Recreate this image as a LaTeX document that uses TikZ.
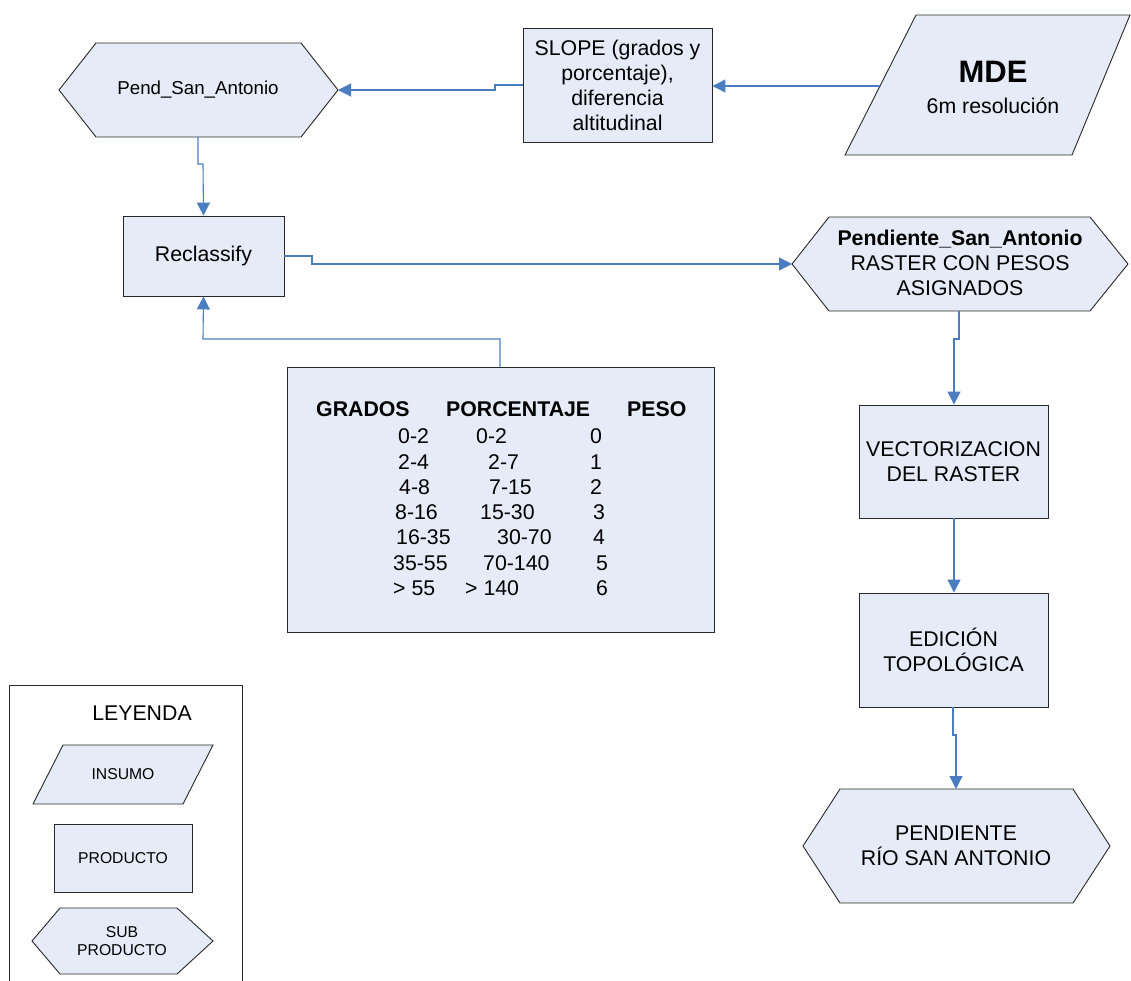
\documentclass[tikz,border=0pt]{standalone}
\usepackage{fontspec}
\setmainfont{Liberation Sans}
\usetikzlibrary{arrows.meta}

\definecolor{boxfill}{RGB}{230,236,247}
\definecolor{boxline}{RGB}{40,40,40}
\definecolor{connblue}{RGB}{74,126,193}

\tikzset{
  shapefill/.style={fill=boxfill, draw=boxline, line width=0.9pt},
  box/.style={shapefill, rectangle, inner sep=0pt, align=center,
    font=\fontsize{21.3}{25}\selectfont},
  conn/.style={draw=connblue, line width=1.1pt,
    -{Triangle[length=13pt,width=13pt]}},
  txt/.style={inner sep=0pt, align=center, font=\fontsize{21.3}{25}\selectfont},
  smalltxt/.style={inner sep=0pt, align=center, font=\fontsize{15.7}{18.5}\selectfont},
  celltxt/.style={inner sep=0pt, anchor=west, font=\fontsize{21.3}{25}\selectfont},
  headtxt/.style={inner sep=0pt, anchor=west, font=\fontsize{21.3}{25}\selectfont\bfseries},
}

\begin{document}
\begin{tikzpicture}[x=1pt,y=-1pt]
\useasboundingbox (0,0) rectangle (1131,980);

% ---------- input: digital elevation model ----------
\draw[shapefill] (845,155) -- (916,15) -- (1130,15) -- (1072,155) -- cycle;
\node[inner sep=0pt, font=\fontsize{31}{34}\selectfont\bfseries] (mdet) at (993,72) {MDE};
\node[txt] (mdes) at (993,106) {6m resolución};
\coordinate (mde-w) at (880,86);

% ---------- slope tool ----------
\node[box, minimum width=189pt, minimum height=114pt] (slope) at (617.5,85)
  {SLOPE (grados y\\porcentaje),\\diferencia\\altitudinal};

% ---------- slope raster (sub product) ----------
\draw[shapefill] (59,90) -- (96,43) -- (301,43) -- (338,90) -- (301,137) -- (96,137) -- cycle;
\node[inner sep=0pt, font=\fontsize{18.7}{22}\selectfont] (pend) at (198,90) {Pend\_San\_Antonio};
\coordinate (pend-e) at (338,90);
\coordinate (pend-s) at (198,137);

% ---------- reclassify ----------
\node[box, minimum width=161pt, minimum height=80pt] (recl) at (203.5,256) {Reclassify};

% ---------- reclassification table ----------
\node[shapefill, rectangle, inner sep=0pt, minimum width=427pt, minimum height=265pt]
  (table) at (500.5,499.5) {};
\node[headtxt] (hg) at (316,409) {GRADOS};
\node[headtxt] (hp) at (446,409) {PORCENTAJE};
\node[headtxt] (hw) at (627,409) {PESO};

\node[celltxt] (g0) at (398,436) {0-2};
\node[celltxt] (p0) at (476,436) {0-2};
\node[celltxt] (w0) at (590,436) {0};
\node[celltxt] (g1) at (398,462) {2-4};
\node[celltxt] (p1) at (488,462) {2-7};
\node[celltxt] (w1) at (590,462) {1};
\node[celltxt] (g2) at (399,487) {4-8};
\node[celltxt] (p2) at (489,487) {7-15};
\node[celltxt] (w2) at (590,487) {2};
\node[celltxt] (g3) at (395,512) {8-16};
\node[celltxt] (p3) at (480,512) {15-30};
\node[celltxt] (w3) at (593,512) {3};
\node[celltxt] (g4) at (396,537) {16-35};
\node[celltxt] (p4) at (497,537) {30-70};
\node[celltxt] (w4) at (593,537) {4};
\node[celltxt] (g5) at (393,563) {35-55};
\node[celltxt] (p5) at (483,563) {70-140};
\node[celltxt] (w5) at (596,563) {5};
\node[celltxt] (g6) at (393,588) {> 55};
\node[celltxt] (p6) at (465,588) {> 140};
\node[celltxt] (w6) at (596,588) {6};
\coordinate (table-n) at (500,367);

% ---------- weighted raster (sub product) ----------
\draw[shapefill] (792,264) -- (829,217) -- (1090,217) -- (1128,264) -- (1090,311) -- (829,311) -- cycle;
\node[txt] (pesos) at (960,263)
  {\textbf{Pendiente\_San\_Antonio}\\RASTER CON PESOS\\ASIGNADOS};
\coordinate (pesos-w) at (792,264);
\coordinate (pesos-s) at (959,311);

% ---------- vectorization ----------
\node[box, minimum width=189pt, minimum height=113pt] (vect) at (953.5,461.5)
  {VECTORIZACION\\DEL RASTER};

% ---------- topological editing ----------
\node[box, minimum width=189pt, minimum height=114pt] (edic) at (953.5,650)
  {EDICIÓN\\TOPOLÓGICA};

% ---------- final product ----------
\draw[shapefill] (803,846) -- (840,789) -- (1073,789) -- (1110,846) -- (1073,903) -- (840,903) -- cycle;
\node[txt] (final) at (956,845.5) {PENDIENTE\\RÍO SAN ANTONIO};
\coordinate (final-n) at (956,789);

% ---------- connectors ----------
\draw[conn] (mde-w) -- (slope.east |- mde-w);
\draw[conn] (slope.west) -- (495,85) -- (495,90) -- (pend-e);
\draw[conn] (pend-s) -- (198,164) -- (203,164) -- (recl.north);
\draw[conn] (recl.east) -- (312,256) -- (312,264) -- (pesos-w);
\draw[conn] (table-n) -- (500,339) -- (203,339) -- (recl.south);
\draw[conn] (pesos-s) -- (959,339) -- (954,339) -- (vect.north -| 954,0);
\draw[conn] (vect.south -| 954,0) -- (edic.north -| 954,0);
\draw[conn] (edic.south -| 953,0) -- (953,735) -- (956,735) -- (final-n);

% ---------- legend ----------
\draw[boxline, line width=0.9pt] (9,985) -- (9,685) -- (242,685) -- (242,985);
\node[txt] (ley) at (142,713) {LEYENDA};
\draw[shapefill] (33,804) -- (63,745) -- (213,745) -- (183,804) -- cycle;
\node[smalltxt] (insumo) at (123,774) {INSUMO};
\node[shapefill, rectangle, inner sep=0pt, minimum width=138pt, minimum height=68pt,
  font=\fontsize{15.7}{18.5}\selectfont] (prod) at (123,858) {PRODUCTO};
\draw[shapefill] (32,941) -- (60,908) -- (177,908) -- (213,941) -- (177,974) -- (60,974) -- cycle;
\node[smalltxt] (subprod) at (122,941) {SUB\\PRODUCTO};

\end{tikzpicture}
\end{document}
